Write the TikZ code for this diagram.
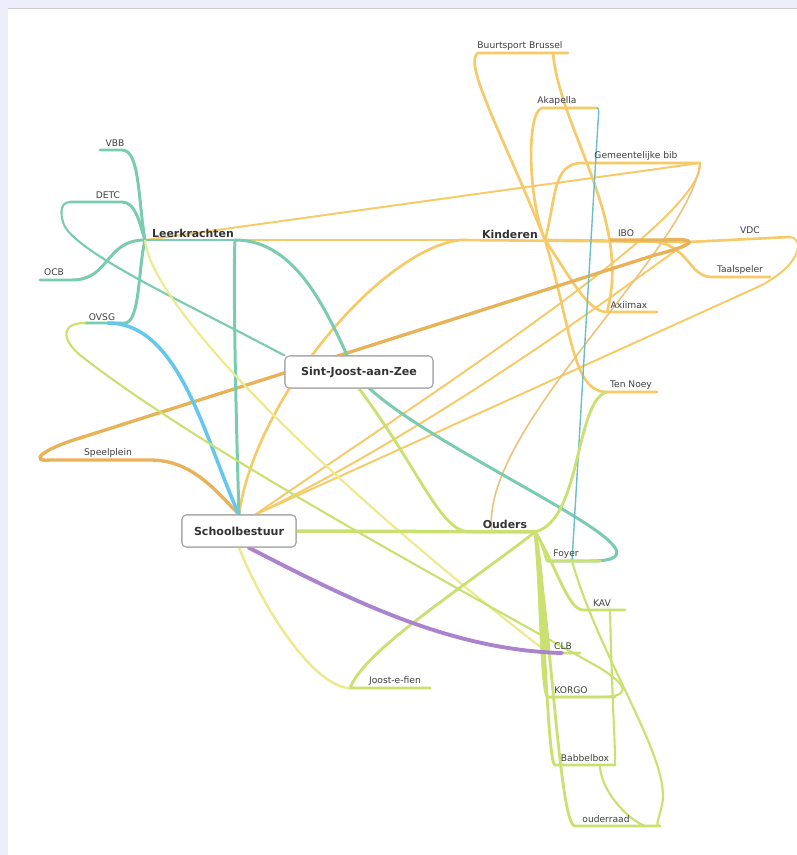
\documentclass[tikz,border=0pt]{standalone}
\usepackage{fontspec}
\setmainfont{DejaVu Sans}
\usetikzlibrary{positioning}

\definecolor{lila}{RGB}{238,238,250}
\definecolor{rand}{RGB}{200,200,215}
\definecolor{zeegroen}{RGB}{122,204,176}
\definecolor{goud}{RGB}{246,202,102}
\definecolor{oranje}{RGB}{232,178,88}
\definecolor{limoen}{RGB}{202,224,112}
\definecolor{bleekgeel}{RGB}{236,234,140}
\definecolor{hemel}{RGB}{100,200,236}
\definecolor{paars}{RGB}{170,130,205}
\definecolor{akablauw}{RGB}{110,190,200}

\tikzset{
  lk/.style={draw=zeegroen, line width=1.7pt, line cap=round},
  kd/.style={draw=goud, line width=1.5pt, line cap=round},
  kddun/.style={draw=goud, line width=1.1pt, line cap=round},
  od/.style={draw=limoen, line width=1.6pt, line cap=round},
  tag/.style={font=\fontsize{5.2}{6}\selectfont, text=black!75, inner sep=0pt},
  kern/.style={font=\bfseries\fontsize{6.2}{7}\selectfont, text=black!80, inner sep=0pt},
  doos/.style={draw=black!35, fill=white, rounded corners=2.5pt, line width=0.6pt,
    minimum height=0.64cm, font=\bfseries\fontsize{6.3}{7}\selectfont, text=black!80}
}

\begin{document}
\begin{tikzpicture}[x=0.02cm, y=-0.02cm]
  \useasboundingbox (0,0) rectangle (797,855);
  %achtergrond
  \fill[lila] (0,0) rectangle (797,855);
  \fill[white] (8,8) rectangle (797,855);
  \draw[rand, line width=0.5pt] (8,8) -- (797,8);

  %knooppunten
  \coordinate (leer) at (145,240);  \coordinate (leerR) at (235,240);
  \coordinate (kind) at (545,240);  \coordinate (kindL) at (460,240);
  \coordinate (oud) at (535,532);   \coordinate (oudL) at (470,532);
  \coordinate (oudM) at (492,532);
  % onderstrepingen
  \coordinate (vbbL) at (100,150);   \coordinate (detcL) at (70,202);
  \coordinate (ocbL) at (40,280);    \coordinate (ovsgL) at (85,323);
  \coordinate (ovsgR) at (125,323);  \coordinate (ovsgM) at (108,323);
  \coordinate (speelL) at (50,460);
  \coordinate (buurtL) at (468,53);  \coordinate (buurtR) at (568,53);
  \coordinate (buurtM) at (553,53);
  \coordinate (akaL) at (533,108);   \coordinate (akaR) at (597,108);
  \coordinate (gemL) at (572,163);   \coordinate (gemR) at (700,163);
  \coordinate (iboL) at (610,240);   \coordinate (iboR) at (688,242);
  \coordinate (vdcR) at (790,237);
  \coordinate (taalL) at (712,277);  \coordinate (taalR) at (770,277);
  \coordinate (axiL) at (607,312);   \coordinate (axiR) at (657,312);
  \coordinate (tenL) at (607,392);   \coordinate (tenR) at (657,392);
  \coordinate (foyerL) at (548,561); \coordinate (foyerR) at (600,561);
  \coordinate (foyerM) at (572,561);
  \coordinate (kavL) at (583,610);   \coordinate (kavR) at (625,610);
  \coordinate (kavM) at (610,610);
  \coordinate (clbL) at (548,653);   \coordinate (clbR) at (580,653);
  \coordinate (clbM) at (562,653);
  \coordinate (korgoL) at (548,697); \coordinate (korgoR) at (615,697);
  \coordinate (babL) at (555,765);   \coordinate (babR) at (615,765);
  \coordinate (babM) at (600,765);
  \coordinate (jefL) at (350,688);   \coordinate (jefR) at (430,688);
  \coordinate (raadL) at (575,826);  \coordinate (raadR) at (660,826);
  \coordinate (raadM) at (645,826);

  \node[doos, minimum width=2.96cm] (sjz) at (359,372) {Sint-Joost-aan-Zee};
  \node[doos, minimum width=2.28cm] (sb) at (239,531) {Schoolbestuur};

  % --- Kinderen (goud)
  \draw[kddun] (leer) -- (gemR);
  \draw[kd] (leerR) -- (kindL);
  \draw[kd] (kindL) -- (iboR) -- (vdcR);
  \draw[kd] (kind) .. controls (505,140) and (462,62) .. (478,53) -- (buurtR);
  \draw[kd] (buurtM) .. controls (560,130) and (632,220) .. (axiL);
  \draw[kd] (kind) .. controls (528,200) and (526,112) .. (542,108) -- (akaR);
  \draw[kd] (kind) .. controls (556,200) and (552,163) .. (582,163) -- (gemR);
  \draw[kd] (kind) -- (650,241) .. controls (690,244) and (688,277) .. (taalL) -- (taalR);
  \draw[kd] (kind) .. controls (572,280) and (588,312) .. (axiL) -- (axiR);
  \draw[kd] (kind) .. controls (572,330) and (572,392) .. (tenL) -- (tenR);
  \draw[kd] (sb.north) .. controls (255,400) and (380,250) .. (kindL);
  \draw[kddun] (sb.45) .. controls (420,400) and (705,220) .. (gemR);
  \draw[kddun] (sb.45) .. controls (450,420) and (640,275) .. (iboR);
  \draw[kddun] (sb.45) -- (760,286) .. controls (806,262) and (802,237) .. (vdcR);
  \draw[draw=oranje!80, line width=0.9pt] (oudM) .. controls (478,430) and (690,250) .. (gemR);

  % --- Speelplein (oranje)
  \draw[draw=oranje, line width=1.9pt] (speelL) -- (150,460) .. controls (192,460) and (215,490) .. (sb.north);
  \draw[draw=oranje, line width=1.9pt] (speelL) .. controls (30,462) and (40,450) .. (80,438)
     -- (655,255) .. controls (702,243) and (696,238) .. (665,240) -- (iboL);

  % --- Leerkrachten (zeegroen)
  \draw[lk] (vbbL) -- (122,150) .. controls (140,150) and (138,200) .. (leer);
  \draw[lk] (detcL) -- (122,202) .. controls (136,202) and (140,225) .. (leer);
  \draw[lk] (ocbL) -- (72,280) .. controls (110,280) and (105,240) .. (leer);
  \draw[lk] (ovsgL) -- (ovsgR) .. controls (140,322) and (138,270) .. (leer);
  \draw[lk] (leer) -- (leerR);
  \draw[lk] (leerR) .. controls (233,280) and (236,420) .. (sb.north);
  \draw[lk] (leerR) .. controls (300,240) and (330,320) .. (355,372)
     .. controls (385,420) and (570,505) .. (608,540) .. controls (626,556) and (615,561) .. (590,561) -- (foyerL);
  \draw[lk, line width=1.2pt] (sjz.north west) .. controls (180,300) and (70,250) .. (63,222)
     .. controls (58,205) and (66,202) .. (detcL);
  \draw[draw=akablauw, line width=0.8pt] (akaR) .. controls (599,108) and (599,112) .. (598,122) -- (foyerM);
  \draw[draw=hemel, line width=2pt, line cap=round] (ovsgM) .. controls (180,323) and (205,440) .. (sb.north);

  % --- Ouders (limoen)
  \draw[draw=bleekgeel, line width=1.2pt] (leer) .. controls (150,300) and (300,460) .. (clbL);
  \draw[od, line width=1.2pt] (ovsgL) .. controls (60,323) and (62,340) .. (80,355)
     .. controls (200,450) and (480,600) .. (600,668) .. controls (632,688) and (628,697) .. (600,697) -- (korgoL);
  \draw[od, line width=2pt] (sb.east) -- (oud);
  \draw[od] (sjz.south) .. controls (420,470) and (440,532) .. (oudL);
  \draw[od] (oud) .. controls (582,520) and (575,400) .. (tenL);
  \draw[od] (oud) .. controls (545,545) and (545,561) .. (foyerL) -- (foyerR);
  \draw[od] (oud) .. controls (556,565) and (568,610) .. (kavL) -- (kavR);
  \draw[od] (oud) .. controls (544,570) and (544,650) .. (clbL) -- (clbR);
  \draw[od] (oud) .. controls (541,590) and (541,697) .. (korgoL) -- (korgoR);
  \draw[od] (oud) .. controls (545,620) and (548,765) .. (babL) -- (babR);
  \draw[od] (oud) .. controls (552,640) and (560,826) .. (raadL) -- (raadR);
  \draw[od] (oud) .. controls (460,590) and (365,650) .. (jefL) -- (jefR);
  \draw[od, line width=1.2pt] (kavM) .. controls (612,700) and (616,760) .. (babR);
  \draw[od, line width=1.2pt] (foyerM) .. controls (600,660) and (672,760) .. (662,805)
     .. controls (658,822) and (655,826) .. (raadR);
  \draw[od, line width=1.2pt] (babM) .. controls (600,790) and (628,820) .. (raadM);
  \draw[draw=bleekgeel, line width=1.4pt] (sb.south) .. controls (268,620) and (318,688) .. (jefL);
  \draw[draw=paars, line width=2.2pt, line cap=round] (sb.-60) .. controls (350,600) and (450,650) .. (clbM);

  % dozen opnieuw bovenop
  \node[doos, minimum width=2.96cm] at (sjz) {Sint-Joost-aan-Zee};
  \node[doos, minimum width=2.28cm] at (sb) {Schoolbestuur};

  % hoofdthema's
  \node[kern] (leerT) at (193,233) {Leerkrachten};
  \node[kern] (kindT) at (510,234) {Kinderen};
  \node[kern] (oudT) at (505,524) {Ouders};

  % labels
  \node[tag] (vbb) at (115,143) {VBB};
  \node[tag] (detc) at (108,195) {DETC};
  \node[tag] (ocb) at (54,272) {OCB};
  \node[tag] (ovsg) at (102,317) {OVSG};
  \node[tag] (speel) at (108,453) {Speelplein};
  \node[tag] (buurt) at (520,46) {Buurtsport Brussel};
  \node[tag] (aka) at (557,101) {Akapella};
  \node[tag] (gem) at (636,156) {Gemeentelijke bib};
  \node[tag] (ibo) at (626,233) {IBO};
  \node[tag] (vdc) at (750,230) {VDC};
  \node[tag] (taal) at (740,270) {Taalspeler};
  \node[tag] (axi) at (629,305) {Axiimax};
  \node[tag] (ten) at (631,385) {Ten Noey};
  \node[tag] (foyer) at (566,554) {Foyer};
  \node[tag] (kav) at (602,603) {KAV};
  \node[tag] (clb) at (563,646) {CLB};
  \node[tag] (korgo) at (571,690) {KORGO};
  \node[tag] (bab) at (585,758) {Babbelbox};
  \node[tag] (jef) at (395,681) {Joost-e-fien};
  \node[tag] (raad) at (606,819) {ouderraad};
\end{tikzpicture}
\end{document}
